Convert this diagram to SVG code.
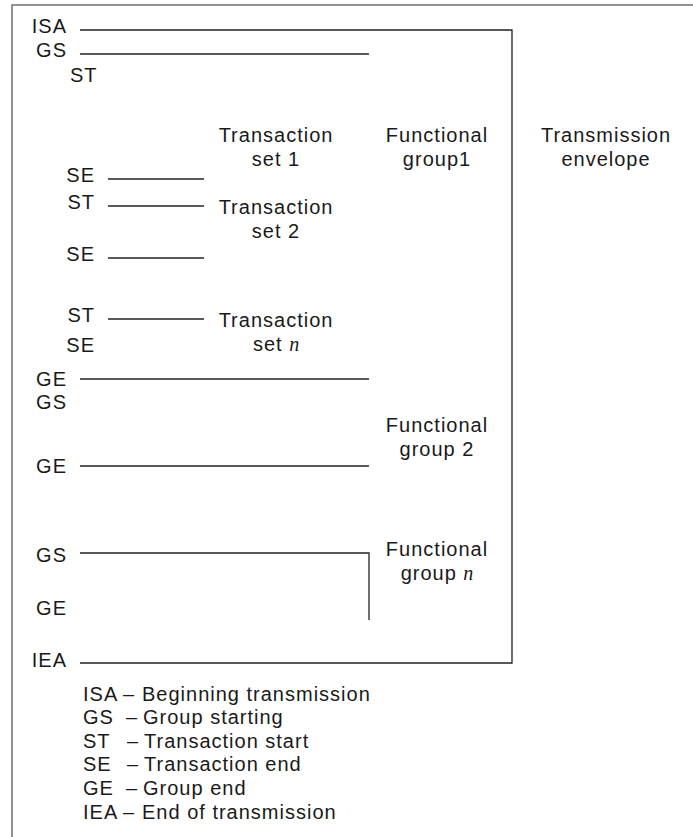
<svg xmlns="http://www.w3.org/2000/svg" width="693" height="837" viewBox="0 0 693 837">
<style>
text{font-family:"Liberation Sans",Arial,sans-serif;font-size:20px;letter-spacing:1px;fill:#1a1a1a}
.c{text-anchor:middle}
.e{text-anchor:end}
.m{font-family:"Liberation Serif","Times New Roman",serif;font-style:italic;letter-spacing:0}
.ln{fill:none;stroke:#222;stroke-width:1.3}
.fr{fill:none;stroke:#777;stroke-width:1.6}
</style>
<rect class="fr" x="12" y="5" width="700" height="860"/>
<g id="connectors">
<path class="ln" d="M80,30 H512 V663 H80"/>
<path class="ln" d="M80,54 H369"/>
<path class="ln" d="M108,179 H204"/>
<path class="ln" d="M108,206 H204"/>
<path class="ln" d="M108,258 H204"/>
<path class="ln" d="M108,319 H204"/>
<path class="ln" d="M80,379 H369"/>
<path class="ln" d="M80,466 H369"/>
<path class="ln" d="M80,553 H369 V620"/>
</g>
<g id="segments">
<text class="e" x="67" y="33">ISA</text>
<text class="e" x="67" y="57">GS</text>
<text x="70" y="82">ST</text>
<text class="e" x="95" y="182">SE</text>
<text class="e" x="95" y="209">ST</text>
<text class="e" x="95" y="261">SE</text>
<text class="e" x="95" y="322">ST</text>
<text class="e" x="95" y="352">SE</text>
<text class="e" x="67" y="386">GE</text>
<text class="e" x="67" y="409">GS</text>
<text class="e" x="67" y="473">GE</text>
<text class="e" x="67" y="562">GS</text>
<text class="e" x="67" y="615">GE</text>
<text class="e" x="67" y="667">IEA</text>
</g>
<g id="transaction-set-1"><text class="c" x="276" y="142">Transaction</text><text class="c" x="276" y="166">set 1</text></g>
<g id="transaction-set-2"><text class="c" x="276" y="214">Transaction</text><text class="c" x="276" y="238">set 2</text></g>
<g id="transaction-set-n"><text class="c" x="276" y="327">Transaction</text><text class="c" x="276" y="351">set <tspan class="m">n</tspan></text></g>
<g id="functional-group-1"><text class="c" x="437" y="142">Functional</text><text class="c" x="437" y="166">group1</text></g>
<g id="functional-group-2"><text class="c" x="437" y="432">Functional</text><text class="c" x="437" y="456">group 2</text></g>
<g id="functional-group-n"><text class="c" x="437" y="556">Functional</text><text class="c" x="437" y="580">group <tspan class="m">n</tspan></text></g>
<g id="transmission-envelope"><text class="c" x="606" y="142">Transmission</text><text class="c" x="606" y="166">envelope</text></g>
<g id="legend">
<text y="701"><tspan x="83">ISA</tspan><tspan x="123">–</tspan><tspan x="142">Beginning transmission</tspan></text>
<text y="724"><tspan x="83">GS</tspan><tspan x="126">–</tspan><tspan x="143">Group starting</tspan></text>
<text y="748"><tspan x="83">ST</tspan><tspan x="127">–</tspan><tspan x="144">Transaction start</tspan></text>
<text y="771"><tspan x="83">SE</tspan><tspan x="127">–</tspan><tspan x="144">Transaction end</tspan></text>
<text y="795"><tspan x="83">GE</tspan><tspan x="126">–</tspan><tspan x="143">Group end</tspan></text>
<text y="819"><tspan x="83">IEA</tspan><tspan x="123">–</tspan><tspan x="142">End of transmission</tspan></text>
</g>
</svg>
